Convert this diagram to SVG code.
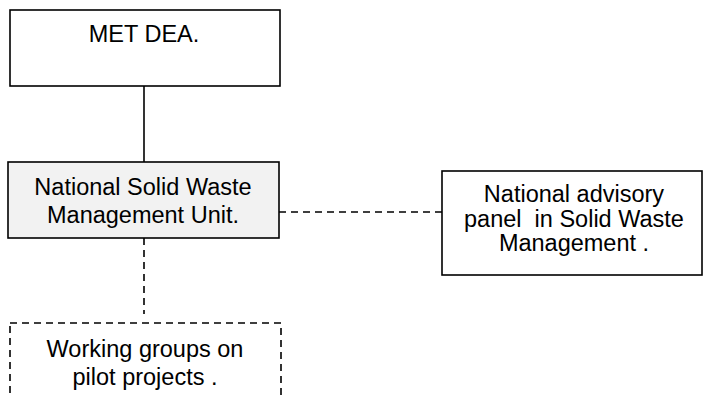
<svg xmlns="http://www.w3.org/2000/svg" width="703" height="398" viewBox="0 0 703 398">
<style>
.box{fill:#fff;stroke:#000;stroke-width:1.6}
.grey{fill:#f2f2f2;stroke:#000;stroke-width:1.6}
.dbox{fill:none;stroke:#000;stroke-width:1.6;stroke-dasharray:7 5}
.t{font-family:"Liberation Sans",Arial,sans-serif;font-size:23.5px;fill:#000;text-anchor:middle}
.c{stroke:#000;stroke-width:1.6;fill:none}
.d{stroke:#000;stroke-width:1.6;fill:none;stroke-dasharray:7 5}
</style>
<rect width="703" height="398" fill="#fff"/>
<g id="connectors">
<line class="c" x1="144" y1="86" x2="144" y2="162"/>
<line class="d" x1="279" y1="212" x2="442" y2="212"/>
<line class="d" x1="144" y1="238" x2="144" y2="314"/>
</g>
<g id="met-dea">
<rect class="box" x="10" y="10" width="270" height="76"/>
<text class="t" x="144" y="41.5">MET DEA.</text>
</g>
<g id="nswmu">
<rect class="grey" x="8" y="162" width="271" height="76"/>
<text class="t" x="143" y="195">National Solid Waste</text>
<text class="t" x="143" y="223">Management Unit.</text>
</g>
<g id="advisory">
<rect class="box" x="442" y="171" width="260" height="104"/>
<text class="t" x="574" y="202">National advisory</text>
<text class="t" x="574" y="226.5" xml:space="preserve">panel  in Solid Waste</text>
<text class="t" x="574" y="251">Management .</text>
</g>
<g id="working">
<rect class="dbox" x="10" y="323" width="271" height="100"/>
<text class="t" x="145" y="356.5">Working groups on</text>
<text class="t" x="145" y="385">pilot projects .</text>
</g>
</svg>
